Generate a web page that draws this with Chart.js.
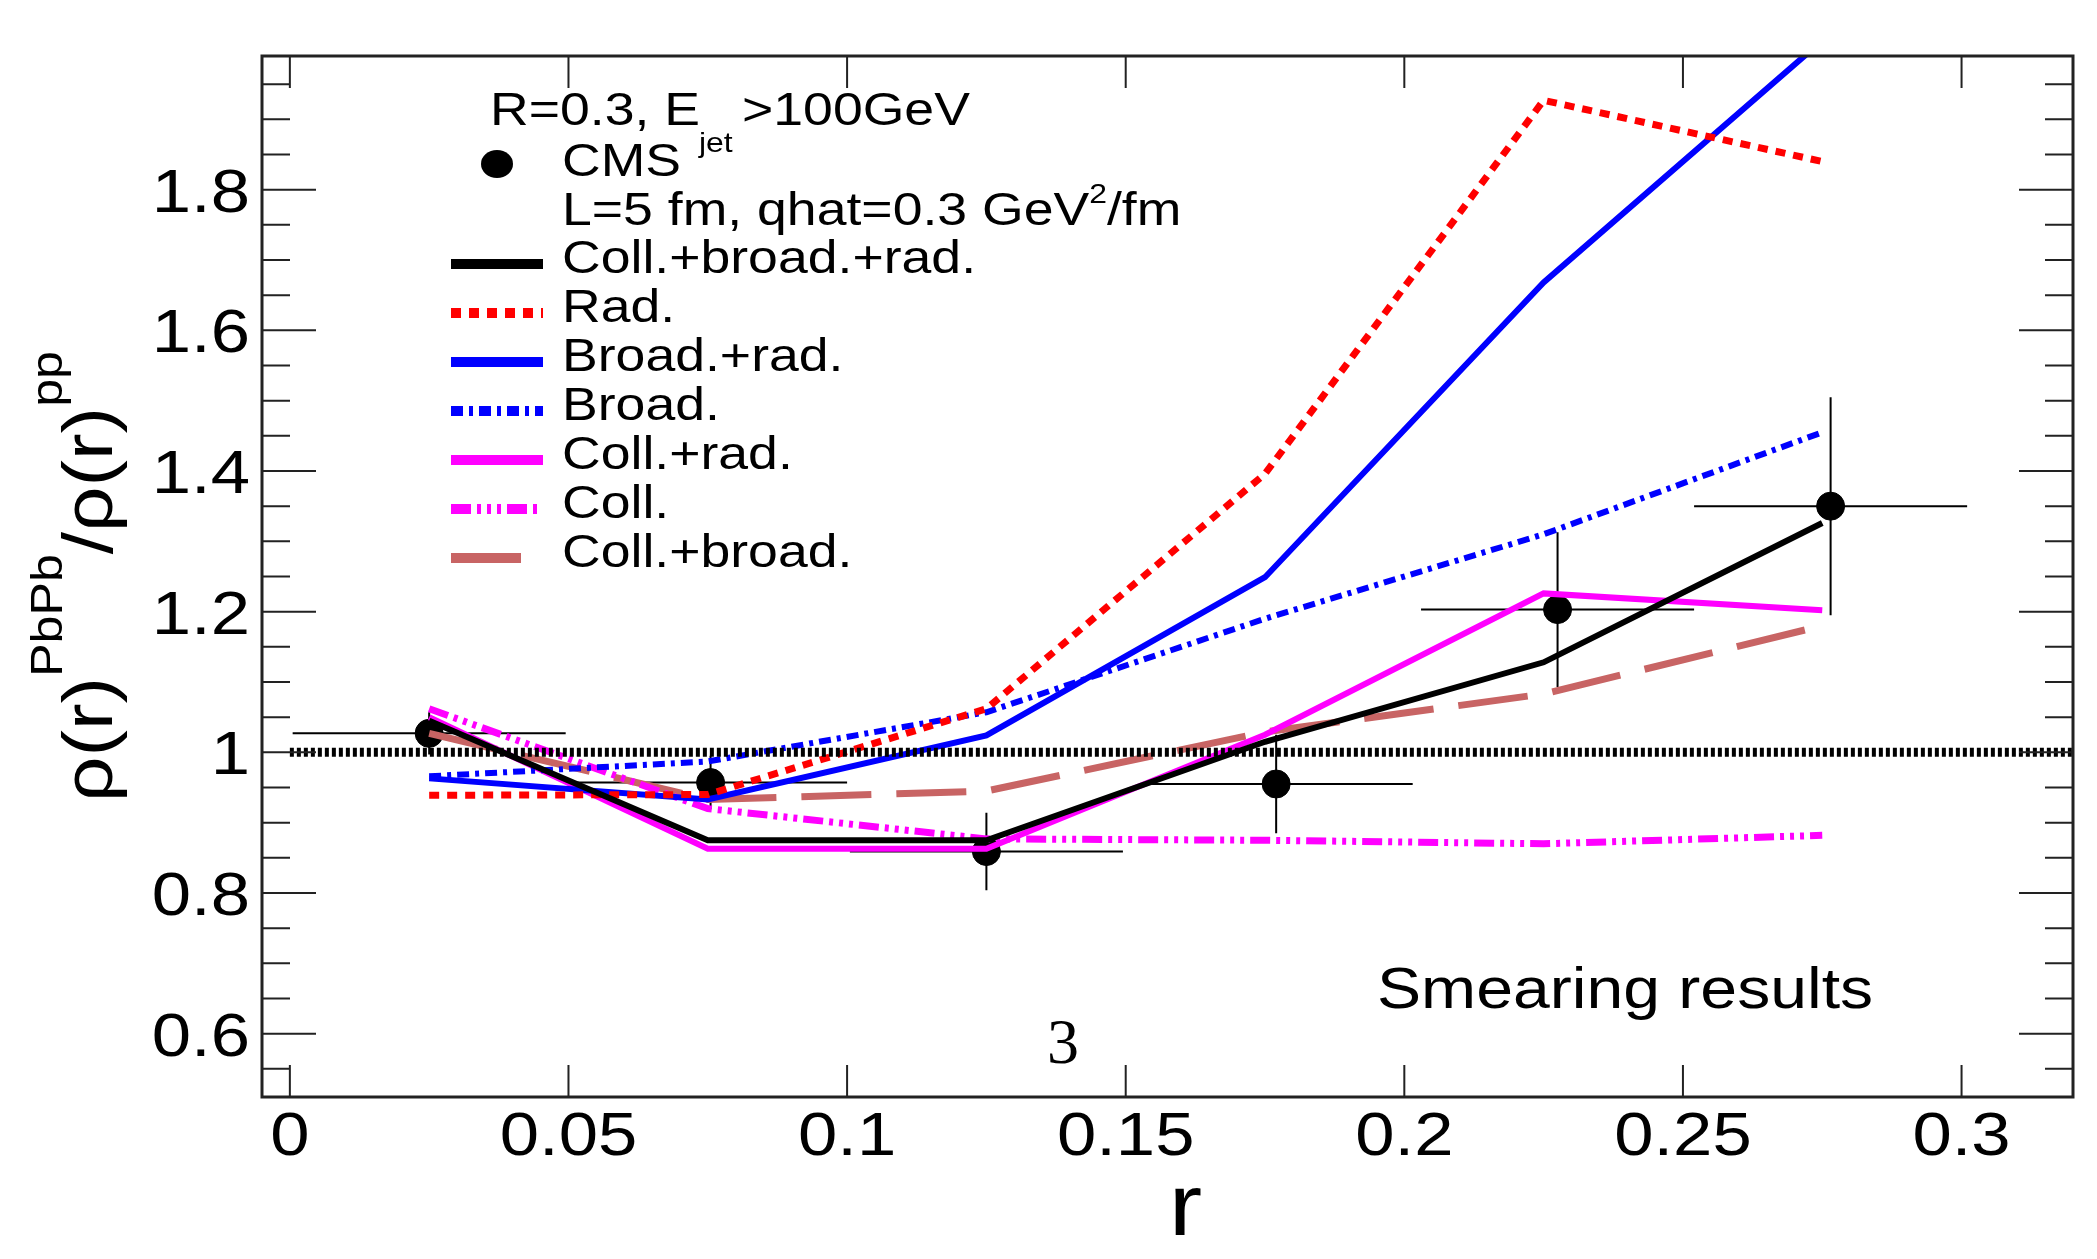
<!DOCTYPE html>
<html lang="en">
<head>
  <meta charset="utf-8">
  <title>Jet shape ratio - smearing results</title>
  <style>
    body { margin: 0; background: #fff; }
    canvas { display: block; }
  </style>
</head>
<body>
  <canvas id="jetShape" width="2097" height="1259"></canvas>

  <script src="https://cdn.jsdelivr.net/npm/chart.js"></script>
  <script>
    // r values where the model curves are evaluated
    const rCenters = [0.025, 0.075, 0.125, 0.175, 0.225, 0.275];

    // model curves, L=5 fm, qhat=0.3 GeV^2/fm
    const collBroadRad = [1.045, 0.875, 0.875, 1.015, 1.128, 1.326];
    const radOnly      = [0.939, 0.940, 1.062, 1.396, 1.927, 1.840];
    const broadRad     = [0.963, 0.933, 1.024, 1.249, 1.668, 2.012];
    const broadOnly    = [0.966, 0.987, 1.057, 1.190, 1.310, 1.455];
    const collRad      = [1.050, 0.863, 0.863, 1.025, 1.226, 1.202];
    const collOnly     = [1.062, 0.920, 0.877, 0.875, 0.870, 0.882];
    const collBroad    = [1.027, 0.933, 0.945, 1.029, 1.083, 1.180];

    // CMS points with errors
    const cmsR     = [0.025, 0.0755, 0.125, 0.177, 0.2275, 0.2765];
    const cmsRatio = [1.027, 0.957, 0.859, 0.955, 1.203, 1.350];
    const cmsErrY  = [0.030, 0.038, 0.055, 0.070, 0.110, 0.155];
    const cmsErrR  = [0.0245, 0.0245, 0.0245, 0.0245, 0.0245, 0.0245];

    // reference line at 1
    const unityR   = [0, 0.32];
    const unityVal = [1, 1];

    const xTicks      = [0, 0.05, 0.1, 0.15, 0.2, 0.25, 0.3];
    const xTickLabels = ["0", "0.05", "0.1", "0.15", "0.2", "0.25", "0.3"];
    const yTicks      = [0.6, 0.8, 1.0, 1.2, 1.4, 1.6, 1.8];
    const yTickLabels = ["0.6", "0.8", "1", "1.2", "1.4", "1.6", "1.8"];

    const FONT = '"Liberation Sans", Arial, sans-serif';
    const SX = 1.14;   // text in the picture is a bit wider than Liberation Sans

    function pts(xs, ys) {
      return xs.map((x, i) => ({ x: x, y: ys[i] }));
    }

    // draws stretched text, returns its width
    function drawText(ctx, str, x, y, size, align) {
      ctx.save();
      ctx.font = size + 'px ' + FONT;
      ctx.fillStyle = '#000';
      ctx.textBaseline = 'alphabetic';
      ctx.textAlign = 'left';
      const w = ctx.measureText(str).width * SX;
      let x0 = x;
      if (align === 'center') x0 = x - w / 2;
      if (align === 'right') x0 = x - w;
      ctx.translate(x0, y);
      ctx.scale(SX, 1);
      ctx.fillText(str, 0, 0);
      ctx.restore();
      return w;
    }

    function partsWidth(ctx, parts) {
      let w = 0;
      parts.forEach(p => {
        ctx.font = p.size + 'px ' + FONT;
        w += ctx.measureText(p.t).width * SX;
      });
      return w;
    }

    function drawParts(ctx, parts, x, y) {
      let cx = x;
      parts.forEach(p => {
        cx += drawText(ctx, p.t, cx, y - (p.rise || 0), p.size, 'left');
      });
    }

    // error bars for the CMS points, under the curves
    const errorBars = {
      id: 'errorBars',
      beforeDatasetsDraw(chart) {
        const ctx = chart.ctx, xs = chart.scales.x, ys = chart.scales.y;
        ctx.save();
        ctx.strokeStyle = '#000';
        ctx.lineWidth = 2;
        cmsR.forEach((r, i) => {
          const px = xs.getPixelForValue(r), py = ys.getPixelForValue(cmsRatio[i]);
          ctx.beginPath();
          ctx.moveTo(xs.getPixelForValue(r - cmsErrR[i]), py);
          ctx.lineTo(xs.getPixelForValue(r + cmsErrR[i]), py);
          ctx.moveTo(px, ys.getPixelForValue(cmsRatio[i] - cmsErrY[i]));
          ctx.lineTo(px, ys.getPixelForValue(cmsRatio[i] + cmsErrY[i]));
          ctx.stroke();
        });
        ctx.restore();
      }
    };

    // ROOT style frame, inward ticks, labels, legend and texts
    const rootFrame = {
      id: 'rootFrame',
      afterDraw(chart) {
        const ctx = chart.ctx, a = chart.chartArea;
        const xs = chart.scales.x, ys = chart.scales.y;
        ctx.save();
        ctx.strokeStyle = '#222';
        ctx.lineWidth = 3;
        ctx.strokeRect(a.left, a.top, a.right - a.left, a.bottom - a.top);

        ctx.lineWidth = 2;
        ctx.beginPath();
        xTicks.forEach(v => {
          const px = xs.getPixelForValue(v);
          ctx.moveTo(px, a.bottom); ctx.lineTo(px, a.bottom - 32);
          ctx.moveTo(px, a.top); ctx.lineTo(px, a.top + 32);
        });
        for (let v = 0.55; v < ys.max; v += 0.05) {
          const val = Math.round(v * 100) / 100;
          const major = yTicks.some(t => Math.abs(t - val) < 1e-6);
          const len = major ? 54 : 28;
          const py = ys.getPixelForValue(val);
          ctx.moveTo(a.left, py); ctx.lineTo(a.left + len, py);
          ctx.moveTo(a.right, py); ctx.lineTo(a.right - len, py);
        }
        ctx.stroke();

        // tick labels
        xTicks.forEach((v, i) => {
          drawText(ctx, xTickLabels[i], xs.getPixelForValue(v), a.bottom + 58, 62, 'center');
        });
        yTicks.forEach((v, i) => {
          drawText(ctx, yTickLabels[i], a.left - 12, ys.getPixelForValue(v) + 22, 62, 'right');
        });

        // axis titles
        drawText(ctx, 'r', (a.left + a.right) / 2 + 18, 1235, 88, 'center');
        const yTitle = [
          { t: 'ρ(r)', size: 70 },
          { t: 'PbPb', size: 44, rise: 50 },
          { t: '/ρ(r)', size: 70 },
          { t: 'pp', size: 44, rise: 50 }
        ];
        const tw = partsWidth(ctx, yTitle);
        ctx.save();
        ctx.translate(112, (a.top + a.bottom) / 2);
        ctx.rotate(-Math.PI / 2);
        drawParts(ctx, yTitle, -tw / 2, 0);
        ctx.restore();

        // legend
        const lsize = 47;
        drawText(ctx, 'R=0.3, E', 490, 125, lsize, 'left');
        drawText(ctx, 'jet', 699, 152, 28, 'left');
        drawText(ctx, '>100GeV', 742, 125, lsize, 'left');

        ctx.fillStyle = '#000';
        ctx.beginPath();
        ctx.ellipse(497, 164, 16, 14, 0, 0, Math.PI * 2);
        ctx.fill();
        drawText(ctx, 'CMS', 562, 176, lsize, 'left');

        drawParts(ctx, [
          { t: 'L=5 fm, qhat=0.3 GeV', size: lsize },
          { t: '2', size: 28, rise: 22 },
          { t: '/fm', size: lsize }
        ], 562, 225);

        let row = 0;
        chart.data.datasets.forEach(ds => {
          if (!ds.inLegend) return;
          const base = 273 + row * 49;
          ctx.save();
          ctx.strokeStyle = ds.borderColor;
          ctx.lineWidth = 10;
          ctx.setLineDash(ds.borderDash || []);
          ctx.beginPath();
          ctx.moveTo(451, base - 9);
          ctx.lineTo(543, base - 9);
          ctx.stroke();
          ctx.restore();
          drawText(ctx, ds.label, 562, base, lsize, 'left');
          row++;
        });

        // other texts on the canvas
        drawText(ctx, 'Smearing results', 1377, 1008, 58, 'left');
        ctx.font = '64px "Liberation Serif", "DejaVu Serif", serif';
        ctx.fillStyle = '#000';
        ctx.textAlign = 'center';
        ctx.fillText('3', 1063, 1063);
        ctx.restore();
      }
    };

    const lineDefaults = { pointRadius: 0, tension: 0, borderWidth: 6, fill: false, inLegend: true };

    const ctx = document.getElementById('jetShape').getContext('2d');
    new Chart(ctx, {
      type: 'line',
      data: {
        datasets: [
          Object.assign({}, lineDefaults, { label: 'Coll.+broad.+rad.', data: pts(rCenters, collBroadRad), borderColor: '#000000' }),
          Object.assign({}, lineDefaults, { label: 'Rad.', data: pts(rCenters, radOnly), borderColor: '#ff0000', borderDash: [10, 8], borderWidth: 7 }),
          Object.assign({}, lineDefaults, { label: 'Broad.+rad.', data: pts(rCenters, broadRad), borderColor: '#0000ff' }),
          Object.assign({}, lineDefaults, { label: 'Broad.', data: pts(rCenters, broadOnly), borderColor: '#0000ff', borderDash: [12, 6, 4, 6] }),
          Object.assign({}, lineDefaults, { label: 'Coll.+rad.', data: pts(rCenters, collRad), borderColor: '#ff00ff' }),
          Object.assign({}, lineDefaults, { label: 'Coll.', data: pts(rCenters, collOnly), borderColor: '#ff00ff', borderDash: [20, 6, 4, 6, 4, 6, 4, 6], borderWidth: 7 }),
          Object.assign({}, lineDefaults, { label: 'Coll.+broad.', data: pts(rCenters, collBroad), borderColor: '#c86464', borderDash: [70, 25], borderWidth: 7 }),
          {
            label: 'CMS', data: pts(cmsR, cmsRatio), showLine: false, order: 10,
            pointRadius: 14, pointHoverRadius: 14, pointBackgroundColor: '#000', pointBorderColor: '#000', borderColor: '#000'
          },
          {
            label: 'unity', data: pts(unityR, unityVal), order: -1, pointRadius: 0,
            borderColor: '#000', borderWidth: 9, borderDash: [4, 3]
          }
        ]
      },
      options: {
        responsive: false,
        animation: false,
        devicePixelRatio: 1,
        layout: { padding: { top: 56, right: 24, left: 0, bottom: 0 } },
        plugins: { legend: { display: false }, tooltip: { enabled: false } },
        scales: {
          x: {
            type: 'linear', min: -0.005, max: 0.32,
            grid: { display: false }, border: { display: false }, ticks: { display: false },
            afterFit: s => { s.height = 162; }
          },
          y: {
            type: 'linear', min: 0.51, max: 1.99,
            grid: { display: false }, border: { display: false }, ticks: { display: false },
            afterFit: s => { s.width = 262; }
          }
        }
      },
      plugins: [errorBars, rootFrame]
    });
  </script>
</body>
</html>
